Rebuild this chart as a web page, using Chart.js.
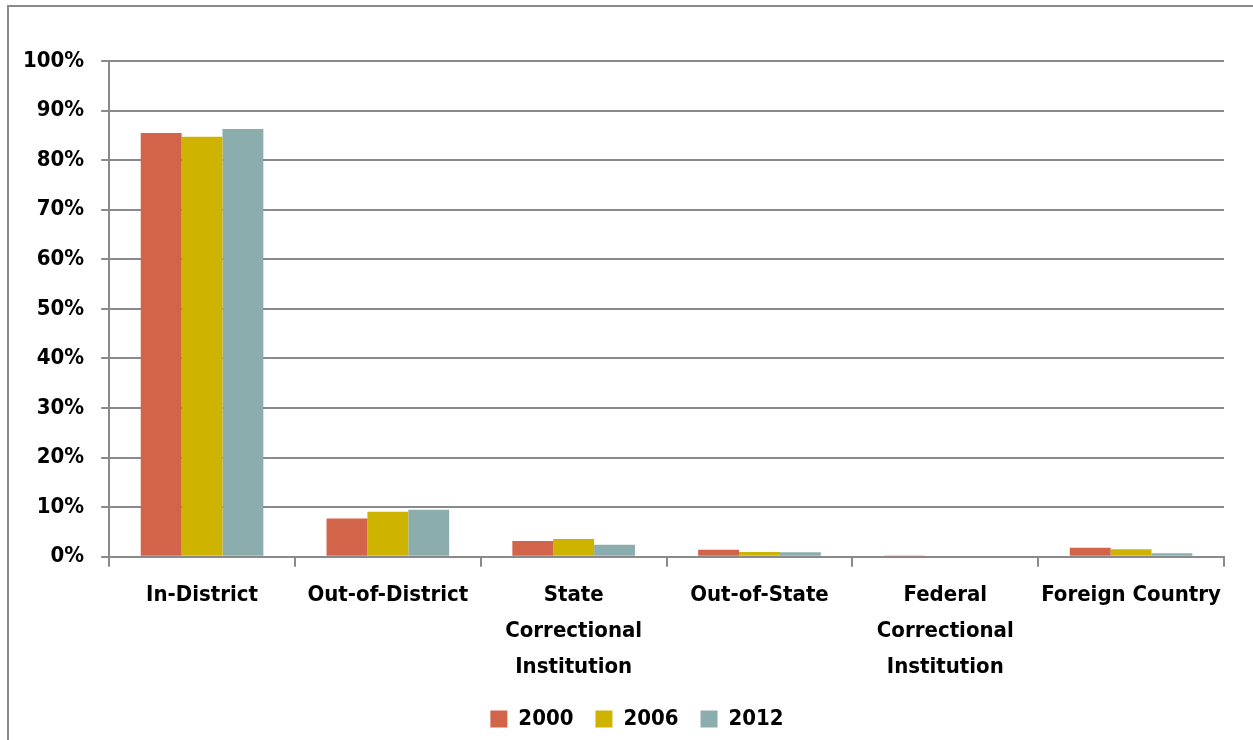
<!DOCTYPE html>
<html>
<head>
<meta charset="utf-8">
<script src="https://cdn.jsdelivr.net/npm/chart.js@4"></script>
<style>
  html, body { margin: 0; padding: 0; background: #fff; overflow: hidden; }
  #wrap { position: absolute; left: 0; top: 0; width: 1253px; height: 740px; }
  #frame { position: absolute; left: 7px; top: 5px; width: 1300px; height: 800px; border: 2px solid #8a8a8a; box-sizing: border-box; pointer-events: none; }
</style>
</head>
<body>
<div id="wrap"><canvas id="c" width="1253" height="740"></canvas></div>
<div id="frame"></div>
<script>
const categories = [
  "In-District",
  "Out-of-District",
  ["State", "Correctional", "Institution"],
  "Out-of-State",
  ["Federal", "Correctional", "Institution"],
  "Foreign Country"
];
const series2000 = [85.5, 7.7, 3.2, 1.4, 0.1, 1.8];
const series2006 = [84.7, 9.1, 3.6, 0.95, 0.0, 1.5];
const series2012 = [86.3, 9.5, 2.4, 0.9, 0.0, 0.7];
const yTicks = [0, 10, 20, 30, 40, 50, 60, 70, 80, 90, 100];

const FONT = "'DejaVu Sans Condensed', 'Liberation Sans Narrow', sans-serif";

const shiftLegend = {
  id: 'shiftLegend',
  afterLayout(chart) {
    const lg = chart.legend;
    if (lg) { lg.left += 22; lg.right += 22; }
  }
};

new Chart(document.getElementById('c'), {
  type: 'bar',
  data: {
    labels: categories,
    datasets: [
      { label: '2000', data: series2000, backgroundColor: '#D2644A', borderWidth: 0 },
      { label: '2006', data: series2006, backgroundColor: '#CEB300', borderWidth: 0 },
      { label: '2012', data: series2012, backgroundColor: '#8BADAD', borderWidth: 0 }
    ]
  },
  plugins: [shiftLegend],
  options: {
    responsive: false,
    animation: false,
    devicePixelRatio: 1,
    layout: { padding: { left: 6, right: 29, top: 61, bottom: 0 } },
    datasets: { bar: { categoryPercentage: 0.66, barPercentage: 1.0 } },
    plugins: {
      tooltip: { enabled: false },
      legend: {
        position: 'bottom',
        labels: {
          boxWidth: 17, boxHeight: 17, padding: 22,
          color: '#000',
          font: { family: FONT, size: 22, weight: 'bold' }
        }
      }
    },
    scales: {
      x: {
        offset: true,
        afterFit: (scale) => { scale.height -= 9; },
        grid: { display: true, drawOnChartArea: false, offset: true, color: '#8a8a8a', lineWidth: 2, tickLength: 10 },
        border: { display: true, color: '#8a8a8a', width: 2 },
        ticks: {
          color: '#000', padding: 10, maxRotation: 0, autoSkip: false,
          font: { family: FONT, size: 22, weight: 'bold', lineHeight: 1.64 }
        }
      },
      y: {
        min: 0, max: 100,
        afterBuildTicks: (axis) => { axis.ticks = yTicks.map(v => ({ value: v })); },
        grid: { color: '#8a8a8a', lineWidth: 2, tickLength: 8 },
        border: { display: true, color: '#8a8a8a', width: 2 },
        ticks: {
          color: '#000', padding: 17,
          font: { family: FONT, size: 22, weight: 'bold' },
          callback: (v) => v + '%'
        }
      }
    }
  }
});
</script>
</body>
</html>
